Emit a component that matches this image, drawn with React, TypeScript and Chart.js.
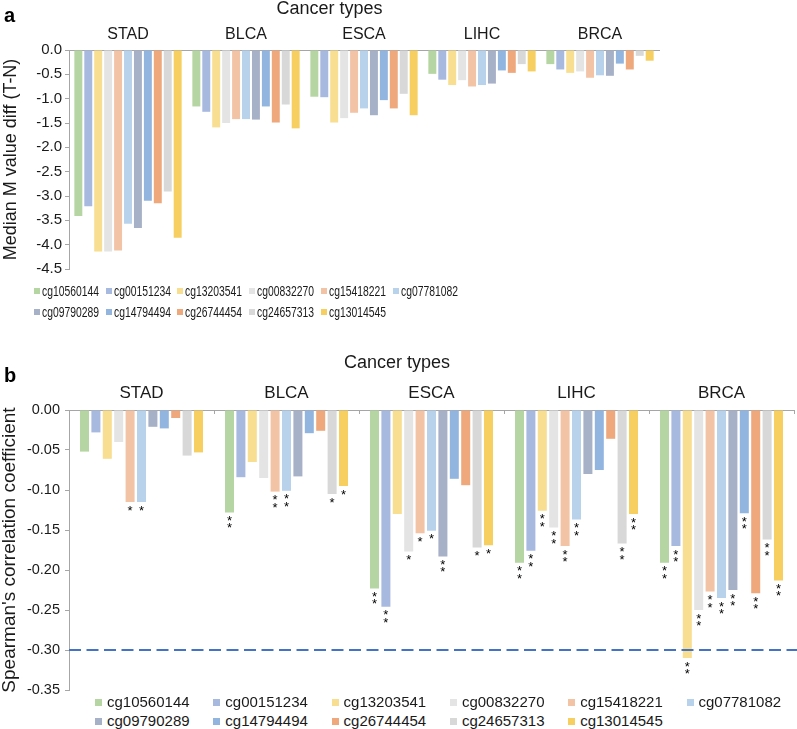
import React, { useEffect, useRef } from 'react';
import { Chart, registerables } from 'chart.js';

Chart.register(...registerables);

const FONT = '"Liberation Sans", Arial, Helvetica, sans-serif';
const TEXT = '#1a1a1a';
const AXIS = '#a6a6a6';

const cancerTypes = ['STAD', 'BLCA', 'ESCA', 'LIHC', 'BRCA'];
const probeIds = [
  'cg10560144', 'cg00151234', 'cg13203541', 'cg00832270', 'cg15418221', 'cg07781082',
  'cg09790289', 'cg14794494', 'cg26744454', 'cg24657313', 'cg13014545',
];
const probeColors = [
  '#B5D5A2', '#A8B9E0', '#F8DE90', '#E4E4E4', '#F3C3A6', '#B8D2EC',
  '#A6B0C7', '#92B5E0', '#EEA87C', '#D8D8D8', '#F6CF60',
];

// Panel a: median M value difference (tumour - normal), per cancer type
const mDiff_cg10560144 = [-3.41, -1.16, -0.96, -0.49, -0.29];
const mDiff_cg00151234 = [-3.21, -1.27, -0.97, -0.61, -0.40];
const mDiff_cg13203541 = [-4.14, -1.59, -1.49, -0.72, -0.47];
const mDiff_cg00832270 = [-4.14, -1.50, -1.40, -0.62, -0.44];
const mDiff_cg15418221 = [-4.12, -1.42, -1.29, -0.75, -0.57];
const mDiff_cg07781082 = [-3.57, -1.42, -1.20, -0.72, -0.52];
const mDiff_cg09790289 = [-3.66, -1.43, -1.34, -0.69, -0.53];
const mDiff_cg14794494 = [-3.10, -1.16, -1.03, -0.42, -0.28];
const mDiff_cg26744454 = [-3.15, -1.49, -1.20, -0.47, -0.40];
const mDiff_cg24657313 = [-2.91, -1.12, -0.90, -0.29, -0.12];
const mDiff_cg13014545 = [-3.86, -1.61, -1.34, -0.44, -0.22];

// Panel b: Spearman's correlation coefficient, per cancer type
const rho_cg10560144 = [-0.052, -0.128, -0.223, -0.191, -0.191];
const rho_cg00151234 = [-0.028, -0.084, -0.246, -0.176, -0.170];
const rho_cg13203541 = [-0.061, -0.065, -0.130, -0.126, -0.310];
const rho_cg00832270 = [-0.040, -0.085, -0.177, -0.147, -0.250];
const rho_cg15418221 = [-0.115, -0.102, -0.154, -0.170, -0.227];
const rho_cg07781082 = [-0.115, -0.101, -0.151, -0.137, -0.235];
const rho_cg09790289 = [-0.021, -0.083, -0.183, -0.080, -0.225];
const rho_cg14794494 = [-0.023, -0.029, -0.086, -0.075, -0.129];
const rho_cg26744454 = [-0.010, -0.026, -0.094, -0.036, -0.229];
const rho_cg24657313 = [-0.057, -0.105, -0.172, -0.167, -0.162];
const rho_cg13014545 = [-0.053, -0.095, -0.169, -0.130, -0.213];

// Panel b: significance marks (number of asterisks)
const sig_cg10560144 = [0, 2, 2, 2, 2];
const sig_cg00151234 = [0, 0, 2, 2, 2];
const sig_cg13203541 = [0, 0, 0, 2, 2];
const sig_cg00832270 = [0, 0, 1, 2, 2];
const sig_cg15418221 = [1, 2, 1, 2, 2];
const sig_cg07781082 = [1, 2, 1, 2, 2];
const sig_cg09790289 = [0, 0, 2, 0, 2];
const sig_cg14794494 = [0, 0, 0, 0, 2];
const sig_cg26744454 = [0, 0, 0, 0, 2];
const sig_cg24657313 = [0, 1, 1, 2, 2];
const sig_cg13014545 = [0, 1, 1, 2, 2];

const rhoThreshold = -0.30;

const mDiffSeries = [
  mDiff_cg10560144, mDiff_cg00151234, mDiff_cg13203541, mDiff_cg00832270, mDiff_cg15418221,
  mDiff_cg07781082, mDiff_cg09790289, mDiff_cg14794494, mDiff_cg26744454, mDiff_cg24657313,
  mDiff_cg13014545,
];
const rhoSeries = [
  rho_cg10560144, rho_cg00151234, rho_cg13203541, rho_cg00832270, rho_cg15418221,
  rho_cg07781082, rho_cg09790289, rho_cg14794494, rho_cg26744454, rho_cg24657313,
  rho_cg13014545,
];
const sigSeries = [
  sig_cg10560144, sig_cg00151234, sig_cg13203541, sig_cg00832270, sig_cg15418221,
  sig_cg07781082, sig_cg09790289, sig_cg14794494, sig_cg26744454, sig_cg24657313,
  sig_cg13014545,
];

const starPlugin = {
  id: 'stars',
  afterDatasetsDraw(chart: any) {
    const ctx = chart.ctx;
    ctx.save();
    ctx.fillStyle = '#000';
    ctx.font = `13px ${FONT}`;
    ctx.textAlign = 'center';
    ctx.textBaseline = 'alphabetic';
    chart.data.datasets.forEach((_ds: any, i: number) => {
      const meta = chart.getDatasetMeta(i);
      meta.data.forEach((el: any, j: number) => {
        const n = sigSeries[i][j];
        for (let k = 0; k < n; k++) {
          ctx.fillText('*', el.x, el.y + 5 + 7.5 * k + 7.5);
        }
      });
    });
    ctx.restore();
  },
};

const thresholdPlugin = {
  id: 'threshold',
  afterDatasetsDraw(chart: any) {
    const { ctx, chartArea, scales } = chart;
    const y = scales.y.getPixelForValue(rhoThreshold);
    ctx.save();
    ctx.strokeStyle = '#4472C4';
    ctx.lineWidth = 2;
    ctx.setLineDash([12, 5.5]);
    ctx.beginPath();
    ctx.moveTo(chartArea.left, y);
    ctx.lineTo(chart.width, y);
    ctx.stroke();
    ctx.restore();
  },
};

function makeDatasets(series: number[][], barPct: number, catPct: number) {
  return probeIds.map((id, i) => ({
    label: id,
    data: series[i],
    backgroundColor: probeColors[i],
    borderWidth: 0,
    barPercentage: barPct,
    categoryPercentage: catPct,
  }));
}

function LegendGrid(props: { x0: number; dx: number; rows: number[]; box: number; gap: number; size: number; scale: number }) {
  const { x0, dx, rows, box, gap, size, scale } = props;
  return (
    <>
      {probeIds.map((id, i) => {
        const col = i % 6;
        const row = Math.floor(i / 6);
        return (
          <div
            key={id}
            style={{
              position: 'absolute',
              left: x0 + col * dx,
              top: rows[row] - 9,
              height: 18,
              display: 'flex',
              alignItems: 'center',
              whiteSpace: 'nowrap',
            }}
          >
            <span style={{ display: 'inline-block', width: box, height: box, background: probeColors[i], marginRight: gap }} />
            <span
              style={{
                display: 'inline-block',
                fontFamily: FONT,
                fontSize: size,
                color: TEXT,
                lineHeight: '18px',
                transform: `scaleX(${scale})`,
                transformOrigin: 'left center',
              }}
            >
              {id}
            </span>
          </div>
        );
      })}
    </>
  );
}

export default function App() {
  const refA = useRef<HTMLCanvasElement>(null);
  const refB = useRef<HTMLCanvasElement>(null);

  useEffect(() => {
    const chartA = new Chart(refA.current as HTMLCanvasElement, {
      type: 'bar',
      data: { labels: cancerTypes, datasets: makeDatasets(mDiffSeries, 0.8, 0.926) as any },
      options: {
        responsive: false,
        animation: false,
        devicePixelRatio: 1,
        layout: { padding: { left: 0, right: 6, top: 0, bottom: 16 } },
        plugins: {
          legend: { display: false },
          tooltip: { enabled: false },
          title: {
            display: true,
            text: 'Cancer types',
            color: TEXT,
            font: { family: FONT, size: 18, weight: 'normal', lineHeight: 1 },
            padding: { top: 0, bottom: 0 },
          },
        },
        scales: {
          x: {
            position: 'top',
            grid: { display: true, drawOnChartArea: false, offset: false, tickLength: -4, color: AXIS },
            border: { display: true, color: AXIS },
            ticks: { color: TEXT, font: { family: FONT, size: 16 }, padding: 9.4, maxRotation: 0 },
            afterFit: (s: any) => { s.height = 32; },
          },
          y: {
            min: -4.5,
            max: 0,
            grid: { display: true, drawOnChartArea: false, tickLength: 4, color: AXIS },
            border: { display: true, color: AXIS },
            ticks: {
              stepSize: 0.5,
              color: TEXT,
              font: { family: FONT, size: 15 },
              padding: 3,
              callback: (v: any) => Number(v).toFixed(1),
            },
            title: {
              display: true,
              text: 'Median M value diff (T-N)',
              color: TEXT,
              font: { family: FONT, size: 18, lineHeight: 1.2 },
              padding: { top: 0, bottom: 0 },
            },
            afterFit: (s: any) => { s.width = 69; },
          },
        },
      } as any,
    });

    const chartB = new Chart(refB.current as HTMLCanvasElement, {
      type: 'bar',
      data: { labels: cancerTypes, datasets: makeDatasets(rhoSeries, 0.79, 0.865) as any },
      options: {
        responsive: false,
        animation: false,
        devicePixelRatio: 1,
        layout: { padding: { left: 0, right: 3, top: 0, bottom: 20 } },
        plugins: {
          legend: { display: false },
          tooltip: { enabled: false },
          title: {
            display: true,
            text: 'Cancer types',
            color: TEXT,
            font: { family: FONT, size: 18, weight: 'normal', lineHeight: 1 },
            padding: { top: 24, bottom: 0 },
          },
        },
        scales: {
          x: {
            position: 'top',
            grid: { display: true, drawOnChartArea: false, offset: true, tickLength: -4, color: AXIS },
            border: { display: true, color: AXIS },
            ticks: { color: TEXT, font: { family: FONT, size: 17 }, padding: 10.8, maxRotation: 0 },
            afterFit: (s: any) => { s.height = 38; },
          },
          y: {
            min: -0.35,
            max: 0,
            grid: { display: true, drawOnChartArea: false, tickLength: 4, color: AXIS },
            border: { display: true, color: AXIS },
            ticks: {
              stepSize: 0.05,
              color: TEXT,
              font: { family: FONT, size: 14.5 },
              padding: 5,
              callback: (v: any) => Number(v).toFixed(2),
            },
            title: {
              display: true,
              text: "Spearman's correlation coefficient",
              color: TEXT,
              font: { family: FONT, size: 19, lineHeight: 1 },
              padding: { top: 0, bottom: 0 },
            },
            afterFit: (s: any) => { s.width = 69; },
          },
        },
      } as any,
      plugins: [starPlugin, thresholdPlugin],
    });

    return () => {
      chartA.destroy();
      chartB.destroy();
    };
  }, []);

  return (
    <div style={{ position: 'absolute', left: 0, top: 0, width: 797, height: 729, background: '#fff', overflow: 'hidden' }}>
      <canvas ref={refA} width={665} height={285} style={{ position: 'absolute', left: 0, top: 0 }} />
      <canvas ref={refB} width={797} height={380} style={{ position: 'absolute', left: 0, top: 330 }} />
      <div style={{ position: 'absolute', left: 4, top: 3, fontFamily: FONT, fontWeight: 'bold', fontSize: 20, lineHeight: '24px', color: '#000' }}>a</div>
      <div style={{ position: 'absolute', left: 4, top: 363, fontFamily: FONT, fontWeight: 'bold', fontSize: 20, lineHeight: '24px', color: '#000' }}>b</div>
      <LegendGrid x0={34} dx={71.7} rows={[291, 312]} box={6} gap={2} size={15} scale={0.69} />
      <LegendGrid x0={95} dx={118.3} rows={[702, 721]} box={7} gap={5} size={15} scale={1} />
    </div>
  );
}
